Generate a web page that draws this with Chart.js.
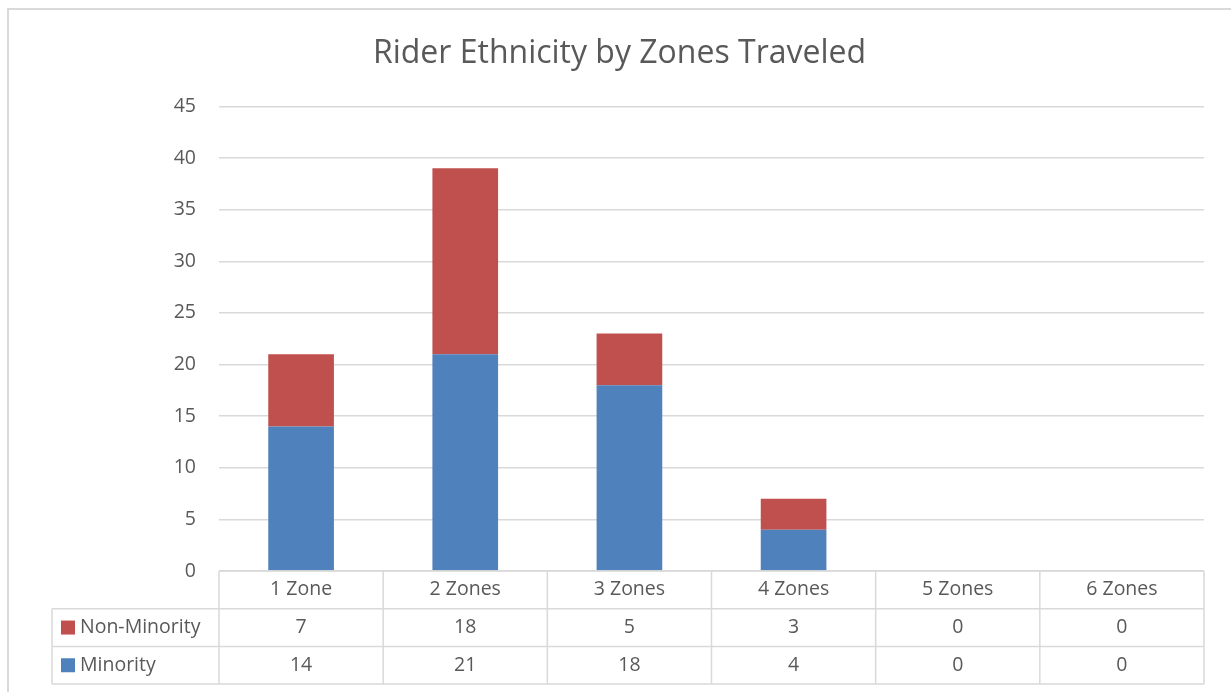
<!DOCTYPE html>
<html>
<head>
<meta charset="utf-8">
<title>Rider Ethnicity by Zones Traveled</title>
<script src="https://cdn.jsdelivr.net/npm/chart.js@4/dist/chart.umd.min.js"></script>
<style>
  html, body { margin: 0; padding: 0; background: #fff; }
  #chart { display: block; }
</style>
</head>
<body>
<canvas id="chart" width="1231" height="692"></canvas>
<script>
// data
const zones = ["1 Zone", "2 Zones", "3 Zones", "4 Zones", "5 Zones", "6 Zones"];
const minority = [14, 21, 18, 4, 0, 0];
const nonMinority = [7, 18, 5, 3, 0, 0];
const yTicks = [0, 5, 10, 15, 20, 25, 30, 35, 40, 45];

const BLUE = "#4F81BD";
const RED = "#C0504D";
const GRID = "#D9D9D9";
const TEXT = "#595959";
const FONT = "'Open Sans', 'Liberation Sans', sans-serif";

// fond blanc + cadre du graphique
const frame = {
  id: "frame",
  beforeDraw(chart) {
    const ctx = chart.ctx;
    ctx.save();
    ctx.fillStyle = "#fff";
    ctx.fillRect(0, 0, chart.width, chart.height);
    ctx.strokeStyle = GRID;
    ctx.lineWidth = 2;
    ctx.strokeRect(8, 9, chart.width + 20, chart.height + 20);
    ctx.restore();
  }
};

// table de données sous l'axe des catégories
const dataTable = {
  id: "dataTable",
  afterDraw(chart) {
    const ctx = chart.ctx;
    const area = chart.chartArea;
    const xs = chart.scales.x;
    const n = zones.length;
    const colW = (area.right - area.left) / n;
    const rowH = 37.7;
    const top = area.bottom;
    const tableLeft = 52;
    const rows = [
      { label: "Non-Minority", color: RED, values: nonMinority },
      { label: "Minority", color: BLUE, values: minority }
    ];

    ctx.save();
    ctx.strokeStyle = GRID;
    ctx.lineWidth = 1.5;
    ctx.beginPath();
    // lignes horizontales
    ctx.moveTo(area.left, top); ctx.lineTo(area.right, top);
    for (let r = 1; r <= 3; r++) {
      ctx.moveTo(tableLeft, top + r * rowH); ctx.lineTo(area.right, top + r * rowH);
    }
    // lignes verticales
    for (let i = 0; i <= n; i++) {
      const x = area.left + i * colW;
      ctx.moveTo(x, top); ctx.lineTo(x, top + 3 * rowH);
    }
    ctx.moveTo(tableLeft, top + rowH); ctx.lineTo(tableLeft, top + 3 * rowH);
    ctx.stroke();

    ctx.fillStyle = TEXT;
    ctx.font = "19.5px " + FONT;
    ctx.textAlign = "center";
    ctx.textBaseline = "middle";
    zones.forEach((z, i) => {
      ctx.fillText(z, xs.getPixelForValue(i), top + rowH / 2);
    });
    rows.forEach((row, r) => {
      const cy = top + (r + 1.5) * rowH;
      row.values.forEach((v, i) => {
        ctx.fillStyle = TEXT;
        ctx.textAlign = "center";
        ctx.fillText(String(v), xs.getPixelForValue(i), cy);
      });
      ctx.fillStyle = row.color;
      ctx.fillRect(61, cy - 7, 14, 14);
      ctx.fillStyle = TEXT;
      ctx.textAlign = "left";
      ctx.fillText(row.label, 80, cy);
    });
    ctx.restore();
  }
};

new Chart(document.getElementById("chart"), {
  type: "bar",
  data: {
    labels: zones,
    datasets: [
      { label: "Minority", data: minority, backgroundColor: BLUE, barPercentage: 0.8, categoryPercentage: 0.5 },
      { label: "Non-Minority", data: nonMinority, backgroundColor: RED, barPercentage: 0.8, categoryPercentage: 0.5 }
    ]
  },
  options: {
    responsive: false,
    animation: false,
    devicePixelRatio: 1,
    layout: { padding: { left: 35, right: 27, top: 0, bottom: 121 } },
    plugins: {
      legend: { display: false },
      tooltip: { enabled: false },
      title: {
        display: true,
        text: "Rider Ethnicity by Zones Traveled",
        color: TEXT,
        font: { family: FONT, size: 32, weight: "normal", lineHeight: 1.2 },
        padding: { top: 35, bottom: 33 }
      }
    },
    scales: {
      x: {
        stacked: true,
        display: false
      },
      y: {
        stacked: true,
        min: 0,
        max: 45,
        afterFit(scale) { scale.width = 184; },
        afterBuildTicks(scale) { scale.ticks = yTicks.map(v => ({ value: v })); },
        border: { display: false },
        grid: { color: GRID, lineWidth: 1.5, drawTicks: false },
        ticks: {
          color: TEXT,
          padding: 23,
          font: { family: FONT, size: 19.5 }
        }
      }
    }
  },
  plugins: [frame, dataTable]
});
</script>
</body>
</html>
